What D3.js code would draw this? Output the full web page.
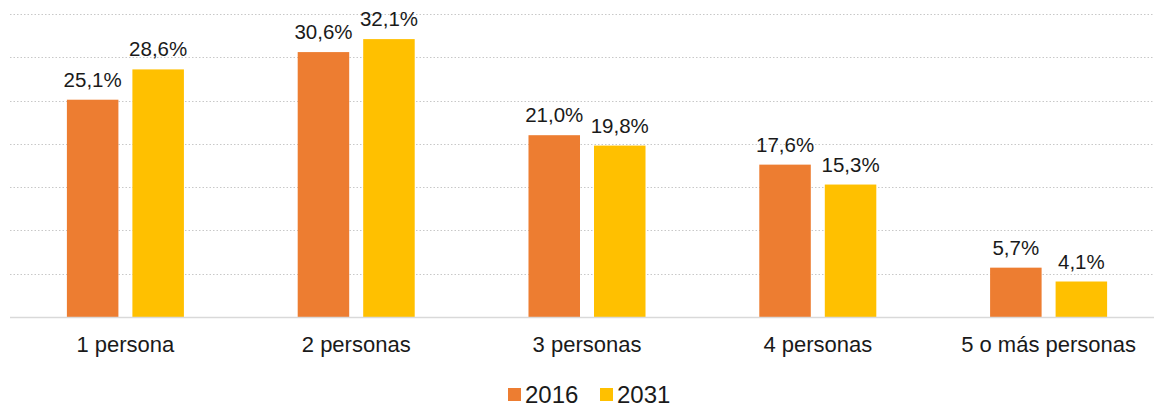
<!DOCTYPE html>
<html>
<head>
<meta charset="utf-8">
<script src="https://cdn.jsdelivr.net/npm/d3@7"></script>
<style>
  html, body { margin: 0; padding: 0; background: #fff; }
  svg { display: block; font-family: "Liberation Sans", Arial, sans-serif; }
</style>
</head>
<body>
<svg id="chart" width="1156" height="405"></svg>
<script>
const categories = ["1 persona", "2 personas", "3 personas", "4 personas", "5 o más personas"];
const seriesNames = ["2016", "2031"];
const values2016 = [25.1, 30.6, 21.0, 17.6, 5.7];
const values2031 = [28.6, 32.1, 19.8, 15.3, 4.1];
const yTicks = [0, 5, 10, 15, 20, 25, 30, 35];
const colors = ["#ED7D31", "#FFC000"];

(function () {
const svg = d3.select("#chart");
const plotLeft = 10, plotRight = 1164, plotTop = 14, base = 317;

const x0 = d3.scaleBand().domain(categories).range([plotLeft, plotRight]).paddingInner(0.493).paddingOuter(0.2465);
const x1 = d3.scaleBand().domain(seriesNames).range([0, x0.bandwidth()]).paddingInner(0.2137).paddingOuter(0);
const y = d3.scaleLinear().domain([0, 35]).range([base, plotTop]);
const color = d3.scaleOrdinal().domain(seriesNames).range(colors);

// gridlines
svg.append("g").selectAll("line")
  .data(yTicks.filter(d => d > 0))
  .join("line")
  .attr("x1", plotLeft).attr("x2", 1154)
  .attr("y1", d => Math.round(y(d)) + 0.5).attr("y2", d => Math.round(y(d)) + 0.5)
  .attr("stroke", "#c8c8c8")
  .attr("stroke-width", 1)
  .attr("stroke-dasharray", "1.5,2");

const data = categories.map((c, i) => ({cat: c, vals: [
  {s: "2016", v: values2016[i]}, {s: "2031", v: values2031[i]}
]}));

const groups = svg.append("g").selectAll("g")
  .data(data).join("g")
  .attr("transform", d => `translate(${x0(d.cat)},0)`);

groups.selectAll("rect")
  .data(d => d.vals).join("rect")
  .attr("x", d => x1(d.s))
  .attr("width", x1.bandwidth())
  .attr("y", d => y(d.v))
  .attr("height", d => base - y(d.v))
  .attr("fill", d => color(d.s));

groups.selectAll("text.val")
  .data(d => d.vals).join("text")
  .attr("class", "val")
  .attr("x", d => x1(d.s) + x1.bandwidth() / 2)
  .attr("y", d => y(d.v) - 13)
  .attr("text-anchor", "middle")
  .attr("font-size", 20.5)
  .attr("fill", "#1a1a1a")
  .text(d => d3.format(".1f")(d.v).replace(".", ",") + "%");

// baseline
svg.append("line")
  .attr("x1", plotLeft).attr("x2", 1154)
  .attr("y1", base + 0.5).attr("y2", base + 0.5)
  .attr("stroke", "#d9d9d9").attr("stroke-width", 1.5);

// category axis labels
const xAxis = d3.axisBottom(x0).tickSize(0).tickPadding(0);
const ax = svg.append("g").attr("transform", `translate(0,${base})`).call(xAxis);
ax.select(".domain").remove();
ax.selectAll("text")
  .attr("y", 35).attr("dy", 0)
  .attr("font-size", 22)
  .attr("font-family", "Liberation Sans, Arial, sans-serif")
  .attr("fill", "#1a1a1a");

// legend
const legend = svg.append("g");
const legendItems = [{s: "2016", x: 508}, {s: "2031", x: 600}];
legendItems.forEach(it => {
  legend.append("rect").attr("x", it.x).attr("y", 388).attr("width", 13).attr("height", 13).attr("fill", color(it.s));
  legend.append("text").attr("x", it.x + 17).attr("y", 402.5).attr("font-size", 24).attr("fill", "#1a1a1a").text(it.s);
});
})();
</script>
</body>
</html>
